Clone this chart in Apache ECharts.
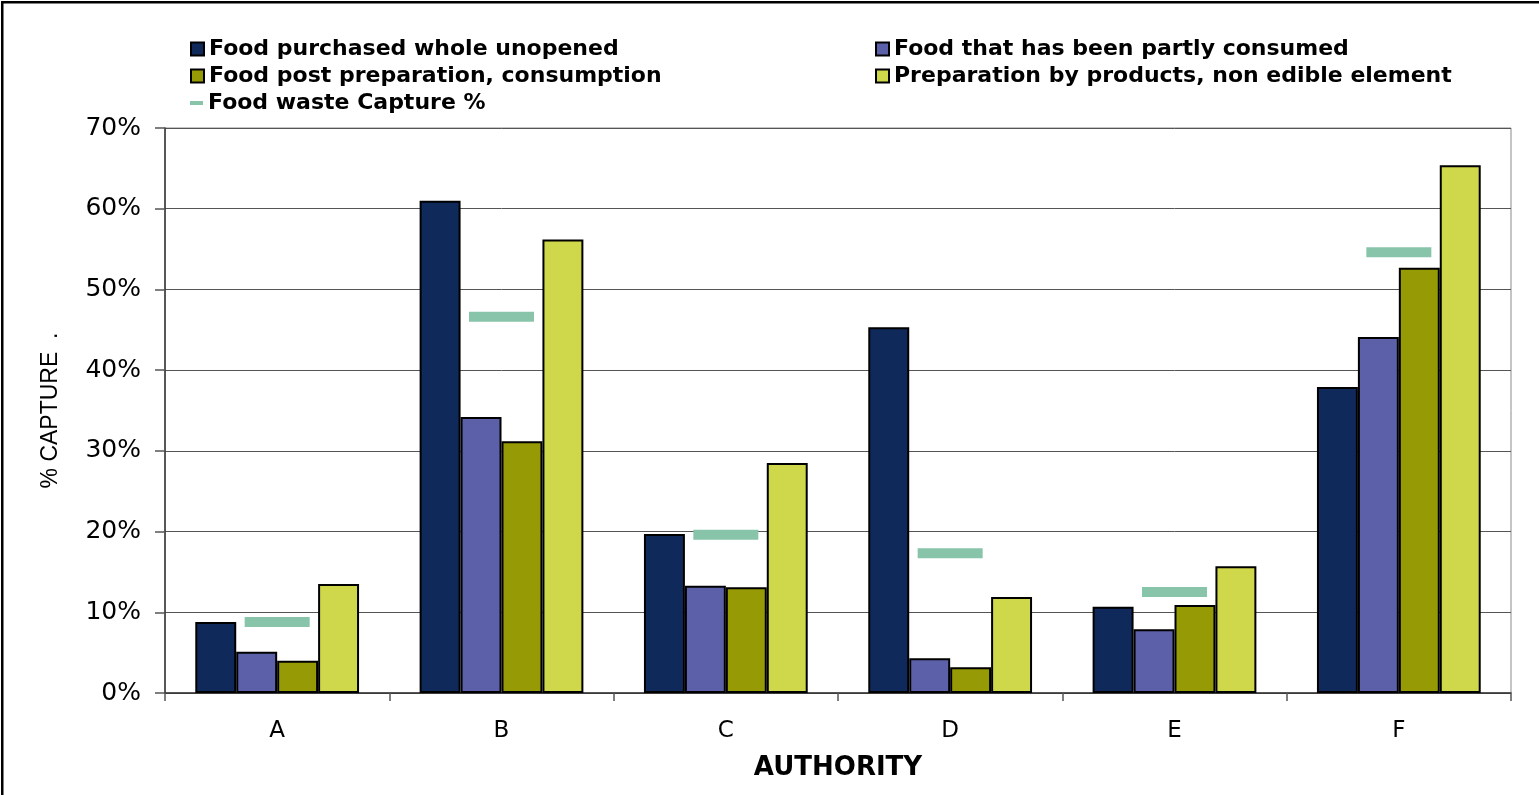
<!DOCTYPE html>
<html>
<head>
<meta charset="utf-8">
<script src="https://cdn.jsdelivr.net/npm/echarts@6/dist/echarts.min.js"></script>
<style>
  html, body { margin: 0; padding: 0; background: #fff; }
  #chart { width: 1539px; height: 795px; }
</style>
</head>
<body>
<div id="chart"></div>
<script>
// Authorities on the category axis
const authorities = ['A', 'B', 'C', 'D', 'E', 'F'];

// Capture rate (%) per food waste type
const purchasedWhole = [8.8, 61.0, 19.7, 45.3, 10.7, 37.9];
const partlyConsumed = [5.1, 34.2, 13.3, 4.3, 7.9, 44.1];
const postPreparation = [4.0, 31.2, 13.1, 3.2, 10.9, 52.7];
const prepByProducts = [13.5, 56.2, 28.5, 11.9, 15.7, 65.4];

// Overall food waste capture rate (%) per authority
const captureRate = [8.8, 46.6, 19.6, 17.3, 12.5, 54.6];

// Y axis range and step
const yMin = 0, yMax = 70, yStep = 10;

const seriesNames = [
  'Food purchased whole unopened',
  'Food that has been partly consumed',
  'Food post preparation, consumption',
  'Preparation by products, non edible element',
  'Food waste Capture %'
];
const colors = ['#0F2A5A', '#5B60A8', '#969A05', '#CFD74B', '#88C4AA'];

const chart = echarts.init(document.getElementById('chart'), null, { renderer: 'canvas' });

function barSeries(name, data, color) {
  return {
    name: name,
    type: 'bar',
    data: data,
    barGap: '0%',
    barCategoryGap: '27%',
    itemStyle: { color: color, borderColor: '#000', borderWidth: 2 },
    emphasis: { disabled: true },
    z: 2
  };
}

const legendText = {
  fontFamily: 'DejaVu Sans',
  fontWeight: 'bold',
  fontSize: 22,
  lineHeight: 22,
  color: '#000'
};

function legendRow(name, left, top, extra) {
  return Object.assign({
    data: [name],
    left: left,
    top: top,
    padding: 0,
    icon: 'rect',
    itemWidth: 13,
    itemHeight: 13,
    itemGap: 0,
    selectedMode: false,
    textStyle: legendText
  }, extra || {});
}

const option = {
  backgroundColor: '#fff',
  animation: false,
  legend: [
    legendRow(seriesNames[0], 190, 38),
    legendRow(seriesNames[1], 875, 38),
    legendRow(seriesNames[2], 190, 65),
    legendRow(seriesNames[3], 875, 65),
    legendRow(seriesNames[4], 190, 92, { itemHeight: 4, itemStyle: { borderWidth: 0 } })
  ],
  grid: {
    left: 165,
    right: 28,
    top: 128,
    bottom: 102,
    show: true,
    borderColor: '#8a8a8a',
    borderWidth: 1,
    containLabel: false
  },
  xAxis: {
    type: 'category',
    data: authorities,
    name: 'AUTHORITY',
    nameLocation: 'middle',
    nameGap: 62,
    nameTextStyle: {
      fontFamily: 'DejaVu Sans',
      fontWeight: 'bold',
      fontSize: 26,
      color: '#000'
    },
    axisLine: { show: true, lineStyle: { color: '#333', width: 1.5 } },
    axisTick: { show: true, length: 8, lineStyle: { color: '#555', width: 1.5 } },
    axisLabel: {
      margin: 27,
      fontFamily: 'DejaVu Sans',
      fontSize: 23,
      color: '#000'
    }
  },
  yAxis: {
    type: 'value',
    min: yMin,
    max: yMax,
    interval: yStep,
    name: '% CAPTURE  .',
    nameLocation: 'middle',
    nameGap: 103,
    nameTextStyle: {
      fontFamily: 'Liberation Sans',
      fontSize: 23,
      color: '#000'
    },
    axisLine: { show: true, lineStyle: { color: '#333', width: 1.5 } },
    axisTick: { show: true, length: 10, lineStyle: { color: '#555', width: 1.5 } },
    splitLine: { show: true, lineStyle: { color: '#555', width: 1 } },
    axisLabel: {
      margin: 24,
      fontFamily: 'DejaVu Sans',
      fontSize: 25,
      color: '#000',
      formatter: v => v + '%'
    }
  },
  series: [
    barSeries(seriesNames[0], purchasedWhole, colors[0]),
    barSeries(seriesNames[1], partlyConsumed, colors[1]),
    barSeries(seriesNames[2], postPreparation, colors[2]),
    barSeries(seriesNames[3], prepByProducts, colors[3]),
    {
      name: seriesNames[4],
      type: 'scatter',
      data: captureRate,
      symbol: 'rect',
      symbolSize: [65, 10],
      itemStyle: { color: colors[4], opacity: 1 },
      emphasis: { disabled: true },
      z: 3
    }
  ],
  graphic: [
    // frame edges along the top and left of the page
    { type: 'rect', shape: { x: 1, y: 1, width: 1538, height: 2.5 }, style: { fill: '#000' }, silent: true },
    { type: 'rect', shape: { x: 1, y: 1, width: 2.5, height: 794 }, style: { fill: '#000' }, silent: true }
  ]
};

chart.setOption(option);
</script>
</body>
</html>
